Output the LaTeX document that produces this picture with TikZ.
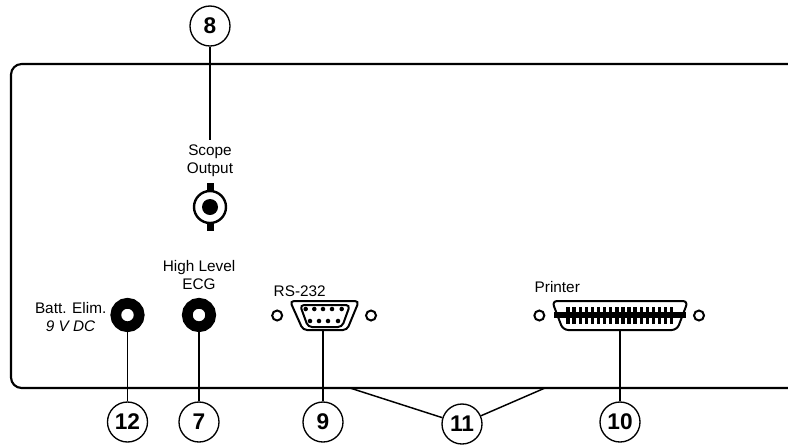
\documentclass[tikz,border=0pt]{standalone}
\usepackage{fontspec}
\setmainfont{Liberation Sans}
\usetikzlibrary{positioning}

\begin{document}
\begin{tikzpicture}[
  x=0.75pt, y=-0.75pt,
  callout/.style={circle, draw, line width=1pt, fill=white, minimum size=30pt, inner sep=0pt, font=\fontsize{17}{19}\selectfont\bfseries},
  leader/.style={line width=1.1pt},
  panel/.style={line width=1.6pt},
  jack/.style={circle, draw, line width=8pt, fill=white, minimum size=17.6pt, inner sep=0pt},
  screw/.style={circle, draw, line width=1.5pt, minimum size=7.5pt, inner sep=0pt},
  pin/.style={circle, fill=black, minimum size=3.4pt, inner sep=0pt},
  portarea/.style={rectangle, minimum height=21.75pt, inner sep=0pt},
  caption/.style={align=center, font=\fontsize{11.5}{13.5}\selectfont}
]
\useasboundingbox (0,0) rectangle (788,444);

% Rear panel, runs off the right edge
\draw[panel, rounded corners=8pt] (800,64) -- (11,64) -- (11,388) -- (800,388);

% Scope output
\node[caption] (scope) at (210,161) {Scope\\Output};
\node[circle, draw, line width=1.8pt, fill=white, minimum size=24pt, inner sep=0pt] (bnc) at (210,207) {};
\node[circle, fill=black, minimum size=12pt, inner sep=0pt] (bnccore) at (bnc.center) {};
\fill (bnc.north) ++(-3.5,-7) rectangle ++(7,8);
\fill (bnc.south) ++(-3.5,-1) rectangle ++(7,8);

% Jacks
\node[jack] (batt) at (127.5,315) {};
\node[jack] (ecg) at (199,315) {};
\node[caption, anchor=east] (battlabel) at (111,317) {Batt. Elim.\\\textit{9 V DC}};
\node[caption] (ecglabel) at (199,275) {High Level\\ECG};

% RS-232 port
\node[portarea, minimum width=52pt] (rs232) at (324.5,315.5) {};
\draw[line width=1.5pt, rounded corners=3pt, fill=white] (290,301) -- (359,301) -- (347,330) -- (303,330) -- cycle;
\draw[line width=1.5pt, rounded corners=3pt] (300,305) -- (350,305) -- (342,327) -- (308,327) -- cycle;
\foreach \px in {305.7,314.3,323,332,341.7} {
  \node[pin] at (\px,309) {};
}
\foreach \px in {310,319,328,338} {
  \node[pin] at (\px,321) {};
}
\node[screw, left=31pt of rs232.center] (rsleft) {};
\node[screw, right=30.4pt of rs232.center] (rsright) {};
\node[anchor=west, font=\fontsize{11.5}{13.5}\selectfont] (rslabel) at (269,291) {RS-232};

% Printer port
\node[portarea, minimum width=102pt] (printer) at (620,315.5) {};
\draw[line width=1.5pt, rounded corners=4pt, fill=white] (552,301) -- (688,301) -- (677,330) -- (563,330) -- cycle;
\fill (554,312) rectangle (686,317.5);
\foreach \n in {0,...,17} {
  \fill ({568+6.1*\n-1.7},307) rectangle ++(3.4,6);
  \fill ({568+6.1*\n-1.7},316) rectangle ++(3.4,8);
}
\node[screw, left=56pt of printer.center] (prleft) {};
\node[screw, right=54.75pt of printer.center] (prright) {};
\node[anchor=west, font=\fontsize{11.5}{13.5}\selectfont] (prlabel) at (530,287) {Printer};

% Callouts
\node[callout] (c8) at (210,26) {8};
\node[callout] (c12) at (127.5,422) {12};
\node[callout] (c7) at (199,422) {7};
\node[callout] (c9) at (323,422) {9};
\node[callout] (c11) at (462,424) {11};
\node[callout] (c10) at (620,422) {10};

% Leaders
\coordinate (leftfoot) at (350,388);
\coordinate (rightfoot) at (545,388);
\draw[leader] (c8) -- (scope.north);
\draw[leader] (c12) -- (batt);
\draw[leader] (c7) -- (ecg);
\draw[leader] (c9) -- (323,330);
\draw[leader] (c10) -- (620,330);
\draw[leader] (c11) -- (leftfoot);
\draw[leader] (c11) -- (rightfoot);

\end{tikzpicture}
\end{document}
